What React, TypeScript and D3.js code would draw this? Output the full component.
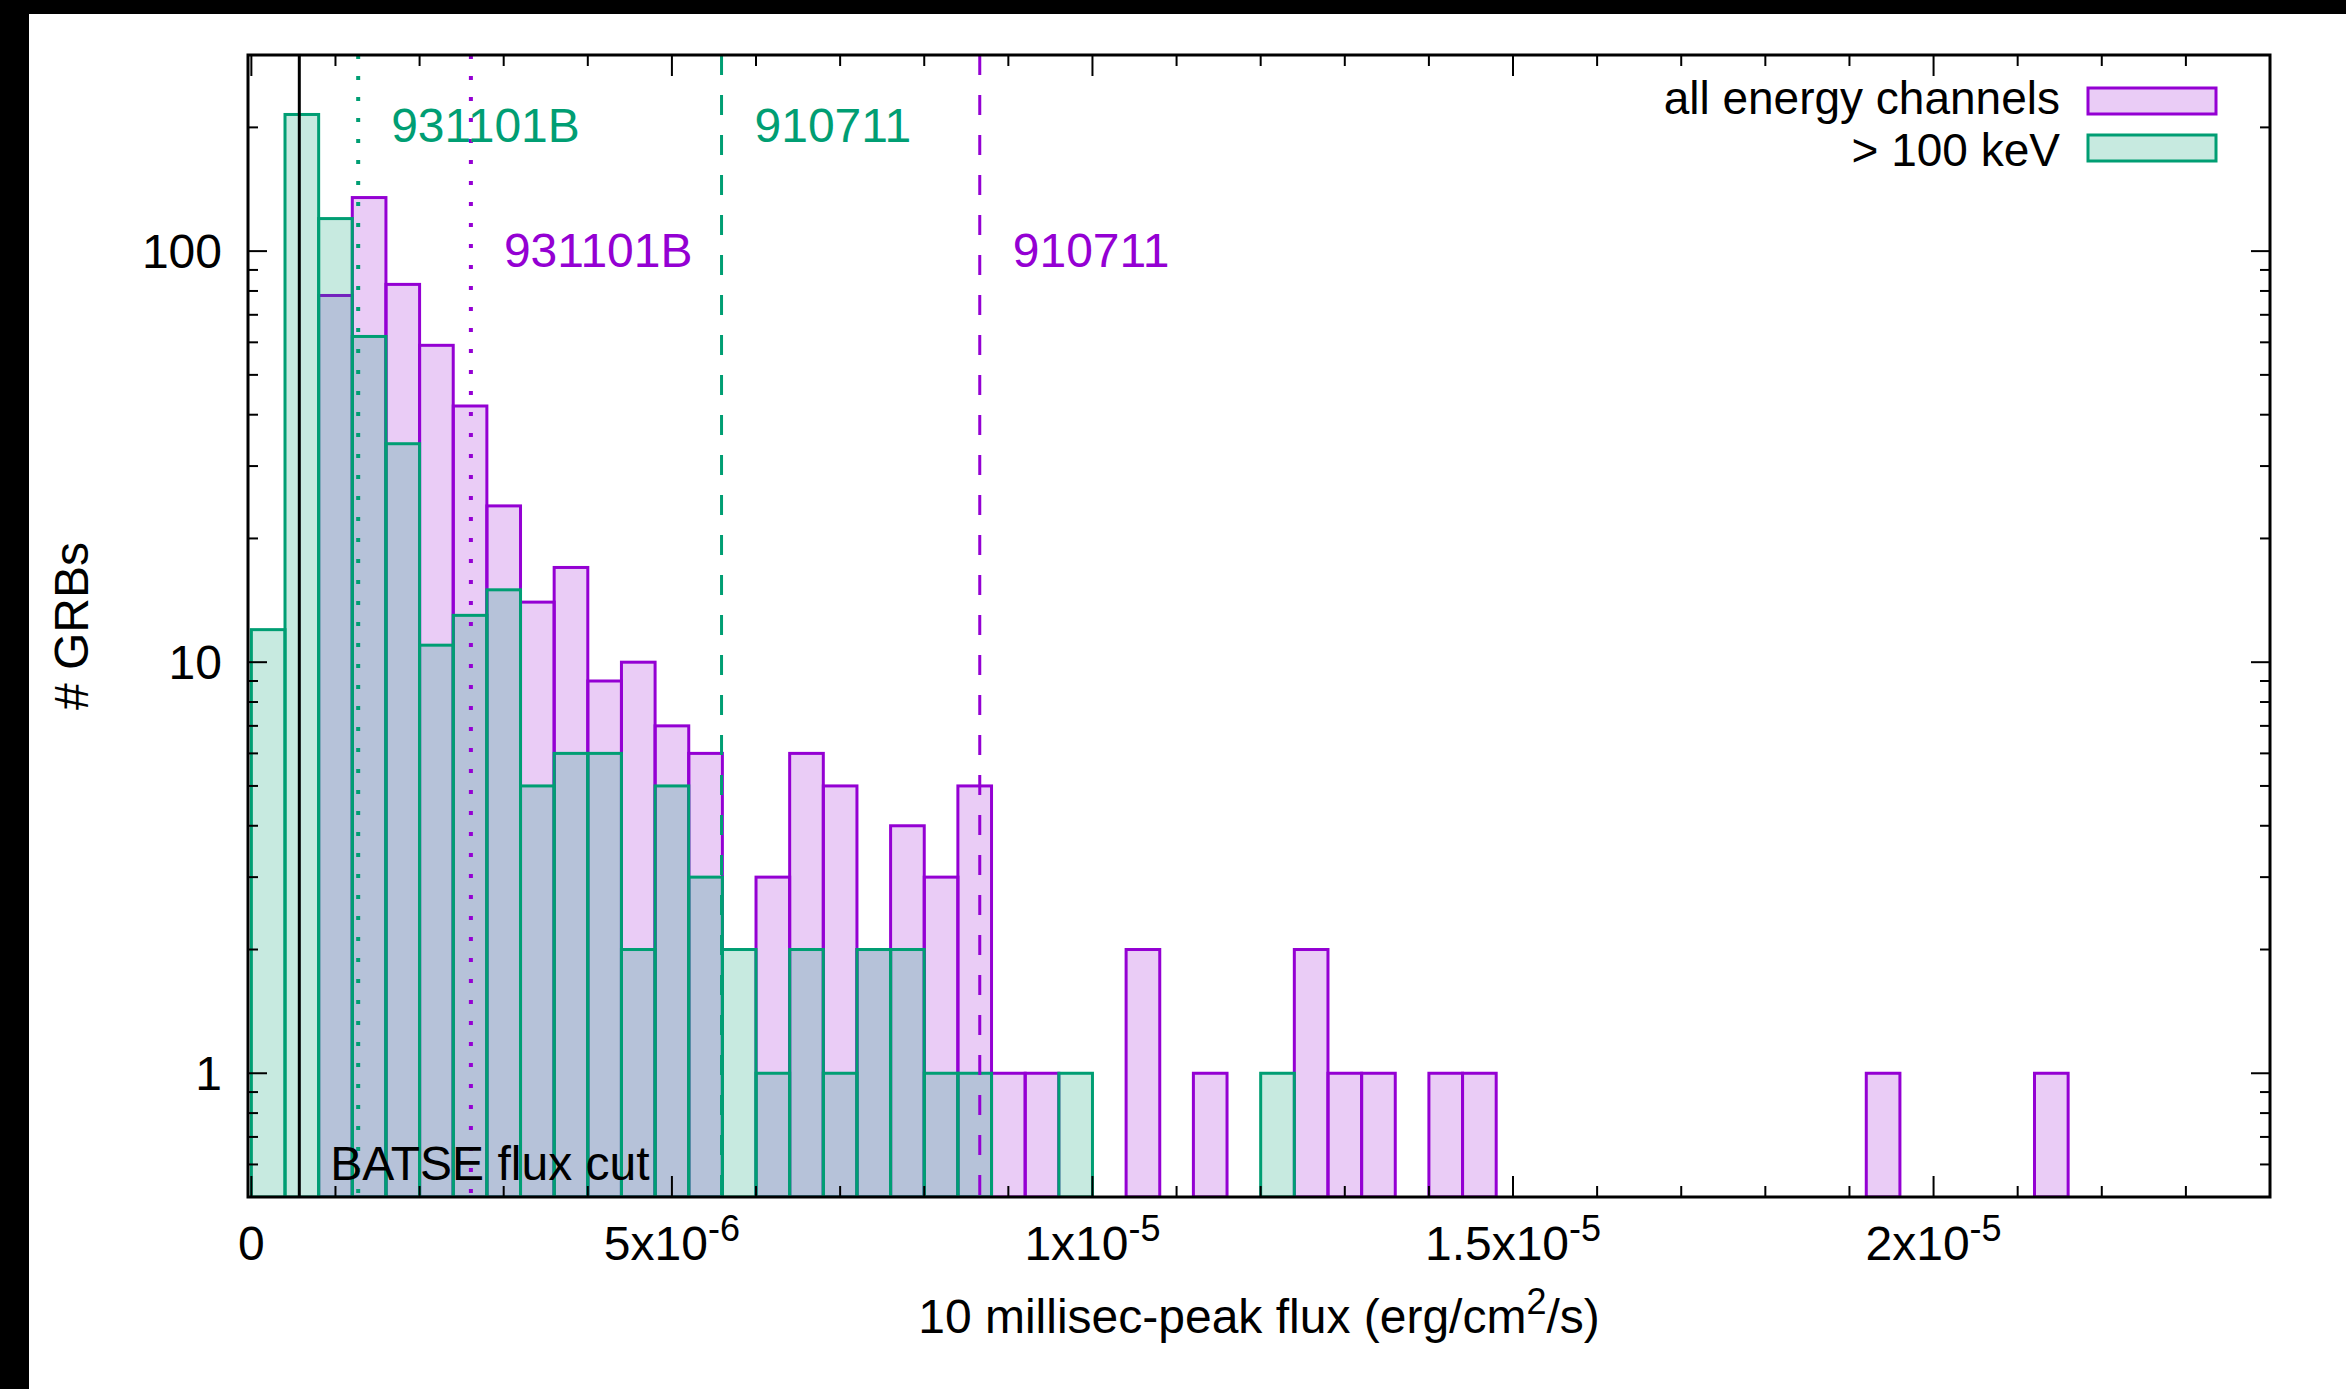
import React from "react";
import * as d3 from "d3";

const W = 2346, H = 1389;

// histogram: counts per bin of 4e-7 erg/cm2/s, first bin starts at 0
const binWidth = 4e-7;
const allChannels = [
  0, 0, 78, 135, 83, 59, 42, 24, 14, 17,
  9, 10, 7, 6, 0, 3, 6, 5, 2, 4,
  3, 5, 1, 1, 0, 0, 2, 0, 1, 0,
  0, 2, 1, 1, 0, 1, 1, 0, 0, 0,
  0, 0, 0, 0, 0, 0, 0, 0, 1, 0,
  0, 0, 0, 1,
];
const above100keV = [
  12, 215, 120, 62, 34, 11, 13, 15, 5, 6,
  6, 2, 5, 3, 2, 1, 2, 1, 2, 2,
  1, 1, 0, 0, 1, 0, 0, 0, 0, 0,
  1,
];

const burstNames = ["931101B", "910711"];
const burstFluxAll = [2.61e-6, 8.66e-6];
const burstFluxHigh = [1.27e-6, 5.59e-6];
const batseCut = 5.7e-7;

const xTicks = [0, 5e-6, 1e-5, 1.5e-5, 2e-5];
const xTickBase = ["0", "5x10", "1x10", "1.5x10", "2x10"];
const xTickExp = ["", "-6", "-5", "-5", "-5"];
const yTicks = [1, 10, 100];

const PURPLE = "#9400d3";
const TEAL = "#009e73";
const FONT = "'Liberation Sans', Arial, Helvetica, sans-serif";
const FS = 48;

const L = 248, R = 2270, T = 55, B = 1197;

export default function App() {
  const x = d3.scaleLinear().domain([-4e-8, 2.4e-5]).range([L, R]);
  const y = d3.scaleLog().domain([0.5, 300]).range([B, T]);

  const xMinor = d3.range(0, 24.5e-6, 1e-6).filter((v) => Math.round(v / 1e-6) % 5 !== 0);
  const yMinor: number[] = [];
  [0.1, 1, 10, 100].forEach((d) => {
    for (let k = 2; k <= 9; k++) {
      const v = d * k;
      if (v > 0.5 && v < 300) yMinor.push(v);
    }
  });

  const bars = (counts: number[], color: string, op: number) =>
    counts.map((c, i) =>
      c > 0 ? (
        <rect
          key={i}
          x={x(i * binWidth)}
          y={y(c)}
          width={x((i + 1) * binWidth) - x(i * binWidth)}
          height={y(0.5) - y(c)}
          fill={color}
          fillOpacity={op}
          stroke={color}
          strokeWidth={3}
        />
      ) : null
    );

  return (
    <div style={{ position: "absolute", left: 0, top: 0 }}>
      <svg width={W} height={H} style={{ display: "block" }} fontFamily={FONT}>
        <rect x={0} y={0} width={W} height={H} fill="#fff" />
        <rect x={0} y={0} width={W} height={14} fill="#000" />
        <rect x={0} y={0} width={29} height={H} fill="#000" />
        <defs>
          <clipPath id="plot">
            <rect x={L} y={T} width={R - L} height={B - T} />
          </clipPath>
        </defs>

        <g clipPath="url(#plot)">
          {bars(allChannels, PURPLE, 0.2)}
          {bars(above100keV, TEAL, 0.22)}

          <line x1={x(batseCut)} x2={x(batseCut)} y1={T} y2={B} stroke="#000" strokeWidth={3} />
          {burstFluxHigh.map((f, i) => (
            <line key={"h" + i} x1={x(f)} x2={x(f)} y1={T} y2={B} stroke={TEAL}
              strokeWidth={i === 0 ? 4 : 3} strokeDasharray={i === 0 ? "4,17" : "20,20"} />
          ))}
          {burstFluxAll.map((f, i) => (
            <line key={"a" + i} x1={x(f)} x2={x(f)} y1={T} y2={B} stroke={PURPLE}
              strokeWidth={i === 0 ? 4 : 3} strokeDasharray={i === 0 ? "4,17" : "20,20"} />
          ))}
        </g>

        {burstFluxHigh.map((f, i) => (
          <text key={"th" + i} x={x(f) + 33} y={142} fill={TEAL} fontSize={FS}>{burstNames[i]}</text>
        ))}
        {burstFluxAll.map((f, i) => (
          <text key={"ta" + i} x={x(f) + 33} y={267} fill={PURPLE} fontSize={FS}>{burstNames[i]}</text>
        ))}
        <text x={x(batseCut) + 31} y={1180} fontSize={FS} fill="#000">BATSE flux cut</text>

        {/* ticks, mirrored on all sides */}
        <g stroke="#000" strokeWidth={2}>
          {xTicks.map((v) => (
            <g key={"xt" + v}>
              <line x1={x(v)} x2={x(v)} y1={B} y2={B - 21} />
              <line x1={x(v)} x2={x(v)} y1={T} y2={T + 21} />
            </g>
          ))}
          {xMinor.map((v) => (
            <g key={"xm" + v}>
              <line x1={x(v)} x2={x(v)} y1={B} y2={B - 11} />
              <line x1={x(v)} x2={x(v)} y1={T} y2={T + 11} />
            </g>
          ))}
          {yTicks.map((v) => (
            <g key={"yt" + v}>
              <line x1={L} x2={L + 19} y1={y(v)} y2={y(v)} />
              <line x1={R} x2={R - 19} y1={y(v)} y2={y(v)} />
            </g>
          ))}
          {yMinor.map((v) => (
            <g key={"ym" + v}>
              <line x1={L} x2={L + 10} y1={y(v)} y2={y(v)} />
              <line x1={R} x2={R - 10} y1={y(v)} y2={y(v)} />
            </g>
          ))}
        </g>
        <rect x={L} y={T} width={R - L} height={B - T} fill="none" stroke="#000" strokeWidth={3} />

        {yTicks.map((v) => (
          <text key={"yl" + v} x={L - 26} y={y(v) + 17} textAnchor="end" fontSize={FS}>{v}</text>
        ))}
        {xTicks.map((v, i) => (
          <text key={"xl" + v} x={x(v)} y={1260} textAnchor="middle" fontSize={FS}>
            <tspan>{xTickBase[i]}</tspan>
            {xTickExp[i] && <tspan dy={-19} fontSize={36}>{xTickExp[i]}</tspan>}
          </text>
        ))}

        <text x={(L + R) / 2} y={1333} textAnchor="middle" fontSize={FS}>
          <tspan>10 millisec-peak flux (erg/cm</tspan>
          <tspan dy={-19} fontSize={36}>2</tspan>
          <tspan dy={19}>/s)</tspan>
        </text>
        <text transform={`translate(88, ${(T + B) / 2}) rotate(-90)`} textAnchor="middle" fontSize={FS}># GRBs</text>

        {/* legend */}
        <text x={2060} y={114} textAnchor="end" fontSize={46}>all energy channels</text>
        <rect x={2088} y={88} width={128} height={26} fill={PURPLE} fillOpacity={0.2} stroke={PURPLE} strokeWidth={3} />
        <text x={2060} y={166} textAnchor="end" fontSize={46}>&gt; 100 keV</text>
        <rect x={2088} y={135} width={128} height={26} fill={TEAL} fillOpacity={0.22} stroke={TEAL} strokeWidth={3} />
      </svg>
    </div>
  );
}
